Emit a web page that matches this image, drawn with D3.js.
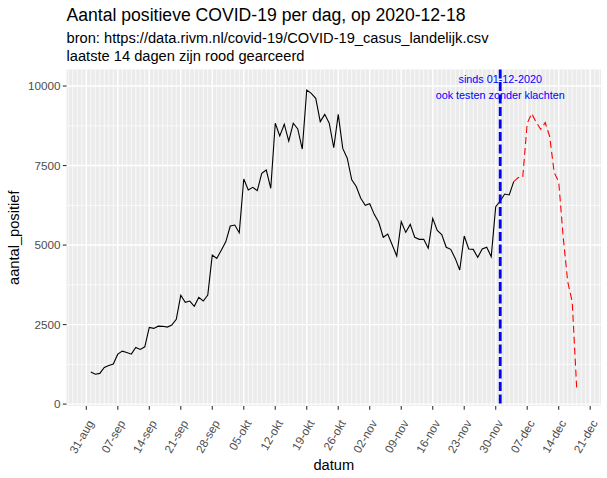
<!DOCTYPE html>
<html>
<head>
<meta charset="utf-8">
<script src="https://cdn.jsdelivr.net/npm/d3@7"></script>
<style>
body { margin: 0; background: #fff; }
text { font-family: "Liberation Sans", Arial, sans-serif; }
</style>
</head>
<body>
<script>
// plot area (panel) in pixels
var breedte = 607, hoogte = 478;
var links = 66.5, rechts = 601, boven = 69.5, onder = 406;

// data: positieve testen per dag, vanaf 2020-09-01
var startDatum = "2020-09-01";
var sepWaarden = [1010, 940, 965, 1150, 1215, 1260, 1570, 1665, 1625, 1570, 1780, 1720, 1800, 2410, 2380,
	2450, 2445, 2420, 2485, 2665, 3420, 3200, 3240, 3075, 3355, 3240, 3430, 4685, 4580, 4840];
var oktWaarden = [5100, 5600, 5630, 5390, 7075, 6730, 6815, 6710, 7255, 7360, 6785, 8830, 8430, 8800, 8270,
	8830, 8650, 8020, 9875, 9770, 9615, 8880, 9110, 8830, 8060, 9110, 8040, 7730, 7050, 6840, 6470];
var novWaarden = [6250, 6300, 5965, 5715, 5245, 5345, 5000, 4655, 5735, 5400, 5650, 5245, 5180, 5180, 4900,
	5840, 5460, 5330, 4930, 4865, 4580, 4215, 5285, 4875, 4865, 4615, 4875, 4930, 4635, 6205];
var decWaarden = [6385, 6605, 6575, 6995, 7120, 7130, 8830, 9140, 8860, 8640, 8850, 8410, 7275, 6990, 5245,
	3850, 3220, 500];
var roodDagen = 14;

var xTickDatums = ["2020-08-31", "2020-09-07", "2020-09-14", "2020-09-21", "2020-09-28", "2020-10-05",
	"2020-10-12", "2020-10-19", "2020-10-26", "2020-11-02", "2020-11-09", "2020-11-16", "2020-11-23",
	"2020-11-30", "2020-12-07", "2020-12-14", "2020-12-21"];
var xTickLabels = ["31-aug", "07-sep", "14-sep", "21-sep", "28-sep", "05-okt", "12-okt", "19-okt", "26-okt",
	"02-nov", "09-nov", "16-nov", "23-nov", "30-nov", "07-dec", "14-dec", "21-dec"];
var yTicks = [0, 2500, 5000, 7500, 10000];
var yDomein = [-60, 10520];

var markeerDatum = "2020-12-01";
var markeerTekst = ["sinds 01-12-2020", "ook testen zonder klachten"];
var markeerY = [10200, 9700];

var parse = d3.utcParse("%Y-%m-%d");
var waarden = sepWaarden.concat(oktWaarden, novWaarden, decWaarden);
var start = parse(startDatum);
var reeks = waarden.map(function (v, i) {
	return { datum: d3.utcDay.offset(start, i), aantal: v };
});
var zwart = reeks.slice(0, reeks.length - roodDagen);
var rood = reeks.slice(reeks.length - roodDagen - 1);

// scales (x met 5% uitbreiding zoals ggplot)
var ext = d3.extent(reeks, function (d) { return d.datum; });
var marge = (ext[1] - ext[0]) * 0.05;
var x = d3.scaleUtc()
	.domain([new Date(+ext[0] - marge), new Date(+ext[1] + marge)])
	.range([links, rechts]);
var y = d3.scaleLinear().domain(yDomein).range([onder, boven]);

var svg = d3.select("body")
	.append("svg")
		.attr("width", breedte)
		.attr("height", hoogte);

svg.append("rect").attr("width", breedte).attr("height", hoogte).attr("fill", "#fff");

// panel background
svg.append("rect")
	.attr("x", links).attr("y", boven)
	.attr("width", rechts - links).attr("height", onder - boven)
	.attr("fill", "#EBEBEB");

// minor grid: every day, and halfway between y ticks
var dagen = d3.utcDay.range(d3.utcDay.ceil(x.domain()[0]), x.domain()[1]);
svg.selectAll(".vminor")
	.data(dagen)
	.enter()
	.append("line")
		.attr("x1", function (d) { return x(d); })
		.attr("x2", function (d) { return x(d); })
		.attr("y1", boven).attr("y2", onder)
		.attr("stroke", "#fff").attr("stroke-width", 0.7);

var yMinor = yTicks.slice(1).map(function (t, i) { return (t + yTicks[i]) / 2; });
svg.selectAll(".hminor")
	.data(yMinor)
	.enter()
	.append("line")
		.attr("x1", links).attr("x2", rechts)
		.attr("y1", function (d) { return y(d); })
		.attr("y2", function (d) { return y(d); })
		.attr("stroke", "#fff").attr("stroke-width", 0.7);

// major grid
svg.selectAll(".vmajor")
	.data(xTickDatums)
	.enter()
	.append("line")
		.attr("x1", function (d) { return x(parse(d)); })
		.attr("x2", function (d) { return x(parse(d)); })
		.attr("y1", boven).attr("y2", onder)
		.attr("stroke", "#fff").attr("stroke-width", 1.4);

svg.selectAll(".hmajor")
	.data(yTicks)
	.enter()
	.append("line")
		.attr("x1", links).attr("x2", rechts)
		.attr("y1", function (d) { return y(d); })
		.attr("y2", function (d) { return y(d); })
		.attr("stroke", "#fff").attr("stroke-width", 1.4);

// lines
var lijn = d3.line()
	.x(function (d) { return x(d.datum); })
	.y(function (d) { return y(d.aantal); });

svg.append("path")
	.datum(zwart)
	.attr("d", lijn)
	.attr("fill", "none")
	.attr("stroke", "#000")
	.attr("stroke-width", 1.1);

svg.append("path")
	.datum(rood)
	.attr("d", lijn)
	.attr("fill", "none")
	.attr("stroke", "#FF0000")
	.attr("stroke-width", 1.1)
	.attr("stroke-dasharray", "7,4");

// vertical marker
var mx = x(parse(markeerDatum));
svg.append("line")
	.attr("x1", mx).attr("x2", mx)
	.attr("y1", boven).attr("y2", onder)
	.attr("stroke", "#0000FF")
	.attr("stroke-width", 2.8)
	.attr("stroke-dasharray", "9,3.5");

svg.selectAll(".markeer")
	.data(markeerTekst)
	.enter()
	.append("text")
		.attr("x", mx)
		.attr("y", function (d, i) { return y(markeerY[i]); })
		.attr("dy", "0.35em")
		.attr("text-anchor", "middle")
		.attr("fill", "#0000FF")
		.style("font-size", "10.8px")
		.text(function (d) { return d; });

// y axis
svg.selectAll(".ytick")
	.data(yTicks)
	.enter()
	.append("line")
		.attr("x1", links - 3.7).attr("x2", links)
		.attr("y1", function (d) { return y(d); })
		.attr("y2", function (d) { return y(d); })
		.attr("stroke", "#333333").attr("stroke-width", 1.1);

svg.selectAll(".ylabel")
	.data(yTicks)
	.enter()
	.append("text")
		.attr("x", links - 6)
		.attr("y", function (d) { return y(d); })
		.attr("dy", "0.35em")
		.attr("text-anchor", "end")
		.attr("fill", "#4D4D4D")
		.style("font-size", "11.7px")
		.text(function (d) { return d; });

// x axis
svg.selectAll(".xtick")
	.data(xTickDatums)
	.enter()
	.append("line")
		.attr("x1", function (d) { return x(parse(d)); })
		.attr("x2", function (d) { return x(parse(d)); })
		.attr("y1", onder).attr("y2", onder + 3.7)
		.attr("stroke", "#333333").attr("stroke-width", 1.1);

svg.selectAll(".xlabel")
	.data(xTickDatums)
	.enter()
	.append("text")
		.attr("transform", function (d) {
			return "translate(" + (x(parse(d)) + 8) + "," + (onder + 17) + ") rotate(-60)";
		})
		.attr("text-anchor", "end")
		.attr("fill", "#4D4D4D")
		.style("font-size", "11.7px")
		.text(function (d, i) { return xTickLabels[i]; });

// titles
svg.append("text")
	.attr("x", (links + rechts) / 2).attr("y", 470)
	.attr("text-anchor", "middle")
	.style("font-size", "14.67px")
	.text("datum");

svg.append("text")
	.attr("transform", "translate(19," + (boven + onder) / 2 + ") rotate(-90)")
	.attr("text-anchor", "middle")
	.style("font-size", "14.67px")
	.text("aantal_positief");

svg.append("text")
	.attr("x", links).attr("y", 21)
	.style("font-size", "17.6px")
	.text("Aantal positieve COVID-19 per dag, op 2020-12-18");

svg.append("text")
	.attr("x", links).attr("y", 43)
	.style("font-size", "14.67px")
	.text("bron: https://data.rivm.nl/covid-19/COVID-19_casus_landelijk.csv");

svg.append("text")
	.attr("x", links).attr("y", 60.5)
	.style("font-size", "14.67px")
	.text("laatste 14 dagen zijn rood gearceerd");
</script>
</body>
</html>
